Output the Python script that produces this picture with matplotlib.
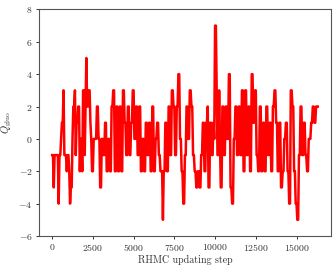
import numpy as np
import matplotlib
matplotlib.use("Agg")
import matplotlib.pyplot as plt

plt.rcParams['font.family'] = 'serif'
plt.rcParams['font.serif'] = ['cmr10']
plt.rcParams['mathtext.fontset'] = 'cm'
plt.rcParams['axes.formatter.use_mathtext'] = True

# topological charge, one value every 50 RHMC steps
step_size = 50
q_gluo = [
    -1, -1, -3, -1, -1, -1, -1, -1, -4, -1,   # 0
    -1, 0, 1, 1, 3, -1, -1, -1, -2, -1,
    -1, -2, -4, -3, -3, 0, 2, 2, 3, -1,      # 1000
    1, 1, 2, 2, -2, 0, 0, -2, 3, 3,
    -1, 2, 5, 2, 2, 3, 3, 1, 0, -2,          # 2000
    -2, 0, 0, 0, 0, 2, 2, 0, 0, -3,
    -3, 0, 0, -1, -1, 1, 1, -2, -2, 0,       # 3000
    0, -2, -2, 2, 2, 3, 3, -2, -2, 2,
    2, -2, -2, 2, 2, -2, -2, 3, 3, 1,        # 4000
    1, -1, -1, 2, 2, -1, -1, 1, 1, 3,
    3, 0, 0, 2, 2, -1, -1, 2, 2, -2,         # 5000
    -2, 0, 0, -2, -2, 1, 1, -1, -1, 1,
    1, -2, -2, 2, 2, -2, -2, 0, 0, 1,        # 6000
    1, -1, -1, -2, -2, -2, -5, -2, -2, 1,
    1, -2, -2, 2, 2, -1, -1, 3, 3, 2,        # 7000
    2, -1, -1, 2, 2, 4, 4, 0, 0, -2,
    -2, -4, -4, -1, -1, 2, 2, 0, 0, 3,       # 8000
    3, 2, 2, -1, -1, -2, -2, -3, -3, -2,
    -2, -3, -3, -1, -1, 1, 1, -2, -2, 1,     # 9000
    1, 2, -3, -3, 1, 1, -1, -1, 1, 0,
    7, 7, 3, -1, -1, 3, 0, -3, -3, 2,        # 10000
    2, -1, -1, 2, 2, 0, 0, 4, 4, -3,
    -3, -4, -4, 0, 0, 2, 2, -1, -1, 2,       # 11000
    2, -1, -1, 3, 3, -2, -2, 3, 3, -1,
    -1, 2, 2, -2, -2, 4, 4, 1, 1, 3,         # 12000
    3, -1, -1, -2, -2, 2, 2, -2, -2, 1,
    1, -2, -2, 2, 2, -1, -1, 1, 1, -2,       # 13000
    -2, 2, 2, 3, 3, 1, 1, -2, -2, 1,
    1, -3, -3, -2, -2, 0, 0, 1, 1, -2,       # 14000
    -2, -4, -4, 3, 3, 2, 2, -2, -2, -4,
    -4, -5, -5, -1, -1, 2, 2, -1, -1, 1,     # 15000
    1, -1, -1, -2, -2, 0, 0, 0, 1, 1,
    2, 2, 1, 1, 2, 2, 2,                     # 16000
]
steps = np.arange(len(q_gluo)) * step_size

fig = plt.figure(figsize=(3.35, 2.7), dpi=100)
ax = fig.add_axes([0.116, 0.126, 0.872, 0.839])
ax.plot(steps, q_gluo, color='red', lw=1.8)

ax.set_ylim(-6, 8)
ax.set_xticks([0, 2500, 5000, 7500, 10000, 12500, 15000])
ax.tick_params(labelsize=7, length=2.5, width=0.7, pad=2, colors='#333333')
for sp in ax.spines.values():
    sp.set_color('#555555')
    sp.set_linewidth(0.8)
ax.set_xlabel('RHMC updating step', fontsize=7.2, labelpad=1, color='#333333')
ax.set_ylabel(r'$Q_{\rm gluo}$', fontsize=7.5, labelpad=3, color='#333333')

fig.savefig('out.png', dpi=100)
